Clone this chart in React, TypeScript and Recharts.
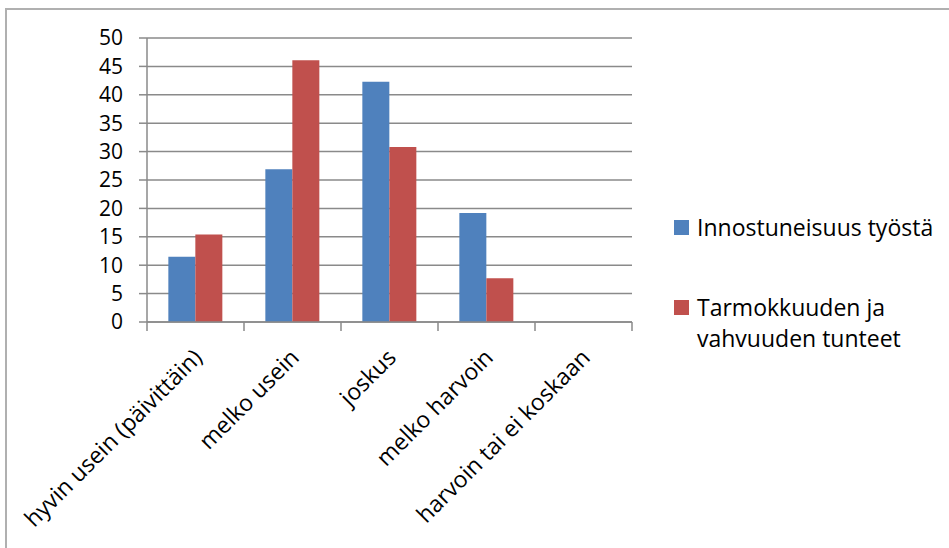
import { BarChart, Bar, XAxis, YAxis, CartesianGrid, Legend } from "recharts";

const categories = [
    "hyvin usein (päivittäin)",
    "melko usein",
    "joskus",
    "melko harvoin",
    "harvoin tai ei koskaan",
];
const innostus = [11.5, 26.9, 42.3, 19.2, 0];
const tarmokkuus = [15.4, 46.1, 30.8, 7.7, 0];
const yTicks = [0, 5, 10, 15, 20, 25, 30, 35, 40, 45, 50];

const seriesNames = ["Innostuneisuus työstä", "Tarmokkuuden ja vahvuuden tunteet"];
const BLUE = "#4F81BD";
const RED = "#C0504D";
const GRID = "#8a8a8a";
const FONT = "'Open Sans', sans-serif";

const W = 949;
const H = 548;
const PLOT_LEFT = 147;
const PLOT_RIGHT = 632;
const BAND = (PLOT_RIGHT - PLOT_LEFT) / categories.length;

const data = categories.map((name, i) => ({
    name,
    innostus: innostus[i],
    tarmokkuus: tarmokkuus[i],
}));

function CategoryTick(props: any) {
    const { x, y, payload, index } = props;
    return (
        <g>
            {index === 0 && (
                <line x1={x - BAND / 2} y1={y} x2={x - BAND / 2} y2={y + 9} stroke={GRID} strokeWidth={1.5} />
            )}
            <line x1={x + BAND / 2} y1={y} x2={x + BAND / 2} y2={y + 9} stroke={GRID} strokeWidth={1.5} />
            <text
                transform={`translate(${x + 8},${y + 37}) rotate(-45)`}
                textAnchor="end"
                fontSize={23}
                fontFamily={FONT}
                fill="#000"
            >
                {payload.value}
            </text>
        </g>
    );
}

function LegendBox() {
    const rows = [
        { color: BLUE, lines: [seriesNames[0]] },
        { color: RED, lines: ["Tarmokkuuden ja", "vahvuuden tunteet"] },
    ];
    return (
        <div style={{ fontFamily: FONT, fontSize: 23, color: "#000" }}>
            {rows.map((r, i) => (
                <div key={i} style={{ display: "flex", alignItems: "flex-start", marginBottom: i === 0 ? 49 : 0 }}>
                    <span
                        style={{
                            display: "inline-block",
                            width: 15,
                            height: 15,
                            background: r.color,
                            marginTop: 8,
                            marginRight: 8,
                            flexShrink: 0,
                        }}
                    />
                    <div style={{ lineHeight: "31px" }}>
                        {r.lines.map((l) => (
                            <div key={l}>{l}</div>
                        ))}
                    </div>
                </div>
            ))}
        </div>
    );
}

export default function App() {
    return (
        <div style={{ position: "absolute", left: 0, top: 0, width: W, height: H, overflow: "hidden", background: "#fff" }}>
            <div
                style={{
                    position: "absolute",
                    left: 5,
                    top: 8,
                    width: 1200,
                    height: 800,
                    borderLeft: "2px solid #b0b0b0",
                    borderTop: "2px solid #b0b0b0",
                }}
            />
            <BarChart
                width={W}
                height={H}
                data={data}
                margin={{ top: 38, right: W - PLOT_RIGHT, left: 0, bottom: 0 }}
                barCategoryGap="22%"
                barGap={0}
                style={{ position: "absolute", left: 0, top: 0 }}
            >
                <CartesianGrid vertical={false} stroke={GRID} strokeWidth={1.5} />
                <XAxis
                    dataKey="name"
                    interval={0}
                    height={H - 322}
                    tick={<CategoryTick />}
                    tickLine={false}
                    tickSize={0}
                    tickMargin={0}
                    axisLine={{ stroke: GRID, strokeWidth: 1.5 }}
                />
                <YAxis
                    domain={[0, 50]}
                    ticks={yTicks}
                    interval={0}
                    width={PLOT_LEFT}
                    tickSize={8}
                    tickMargin={16}
                    tickLine={{ stroke: GRID, strokeWidth: 1.5 }}
                    axisLine={{ stroke: GRID, strokeWidth: 1.5 }}
                    tick={{ fontSize: 21, fontFamily: FONT, fill: "#000" }}
                />
                <Legend
                    layout="vertical"
                    align="center"
                    verticalAlign="middle"
                    content={<LegendBox />}
                    wrapperStyle={{ left: 674, top: 212, width: 275, bottom: "auto", right: "auto" }}
                />
                <Bar dataKey="innostus" name={seriesNames[0]} fill={BLUE} isAnimationActive={false} />
                <Bar dataKey="tarmokkuus" name={seriesNames[1]} fill={RED} isAnimationActive={false} />
            </BarChart>
        </div>
    );
}
